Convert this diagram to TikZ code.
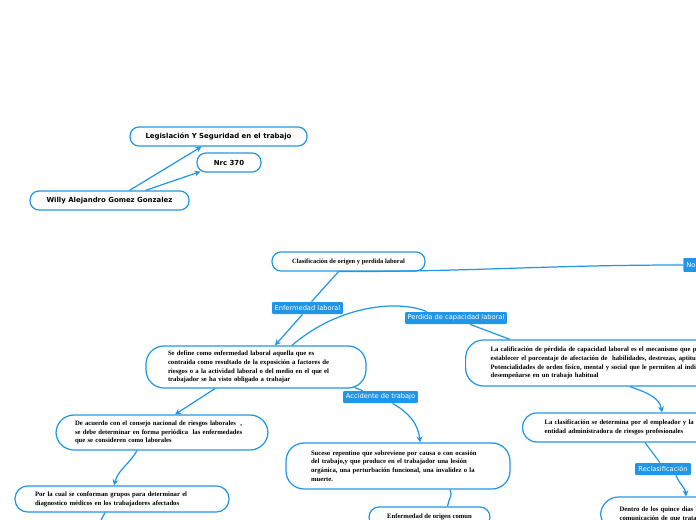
\documentclass[tikz,border=0pt]{standalone}
\usepackage{fontspec}
\setmainfont{Liberation Serif}
\setsansfont{DejaVu Sans}
\usetikzlibrary{arrows.meta,positioning,calc}
\definecolor{mapblue}{RGB}{33,150,230}

\begin{document}
\begin{tikzpicture}[
  x=0.02cm, y=-0.02cm,
  topic/.style={draw=mapblue, line width=0.7pt, rounded corners=0.18cm, minimum height=0.38cm, inner sep=0pt, font=\sffamily\bfseries\fontsize{3.95}{4.4}\selectfont},
  note/.style={draw=mapblue, line width=0.7pt, rounded corners=0.36cm, inner ysep=0pt, align=left, font=\bfseries\fontsize{3.8}{5}\selectfont},
  tag/.style={fill=mapblue, text=white, rounded corners=0.6pt, minimum height=0.24cm, inner sep=0pt, font=\sffamily\fontsize{3.8}{4.2}\selectfont},
  link/.style={draw=mapblue, line width=0.7pt},
  arr/.style={link, -{Stealth[length=3.4pt, width=3.4pt]}}
]
  \useasboundingbox (0,0) rectangle (696,520);

  \node[topic, minimum width=3.54cm] (legis) at (218.5,136.5) {Legislación Y Seguridad en el trabajo};
  \node[topic, minimum width=1.28cm] (nrc) at (229,162.5) {Nrc 370};
  \node[topic, minimum width=3.18cm] (willy) at (109.5,200.5) {Willy Alejandro Gomez Gonzalez};
  \node[topic, minimum width=3.06cm, font=\bfseries\fontsize{3.7}{4}\selectfont] (clasif) at (348.5,261.5) {Clasificación de origen y perdida laboral};

  \node[tag, minimum width=1.42cm] (enf) at (307.5,308) {Enfermedad laboral};
  \node[tag, minimum width=2.04cm] (perd) at (456,318) {Perdida de capacidad laboral};
  \node[tag, minimum width=1.5cm] (accid) at (380.5,397) {Accidente de trabajo};
  \node[tag, minimum width=1.12cm] (recl) at (663,469) {Reclasificación};
  \node[tag, anchor=west, inner xsep=0.06cm, minimum height=0.28cm, text width=0.7cm] (no) at (683,265) {No};

  \node[note, text width=3.52cm, inner xsep=0.44cm, minimum height=0.84cm] (boxA) at (256,367) {Se define como enfermedad laboral aquella que es\\ contraida como resultado de la exposición a factores de\\ riesgos o a la actividad laboral o del medio en el que el\\ trabajador se ha visto obligado a trabajar};
  \node[note, anchor=west, text width=5.6cm, inner xsep=0.5cm, minimum height=0.92cm] (boxB) at (465,363) {La calificación de pérdida de capacidad laboral es el mecanismo que permite\\ establecer el porcentaje de afectación de\ \ habilidades, destrezas, aptitudes y/o\\ Potencialidades de orden físico, mental y social que le permiten al individuo\\ desempeñarse en un trabajo habitual};
  \node[note, text width=3.48cm, inner xsep=0.38cm, minimum height=0.7cm] (boxE) at (162,432.5) {De acuerdo con el consejo nacional de riesgos laborales\ \ ,\\ se debe determinar en forma periódica\ \ las enfermedades\\ que se consideren como laborales};
  \node[note, text width=3.48cm, inner xsep=0.5cm, minimum height=0.92cm] (boxC) at (398,466) {Suceso repentino que sobreviene por causa o con ocasión\\ del trabajo,y que produce en el trabajador una lesión\\ orgánica, una perturbación funcional, una invalidez o la\\ muerte.};
  \node[note, anchor=west, text width=4cm, inner xsep=0.44cm, minimum height=0.58cm, rounded corners=0.28cm] (boxG) at (522,427.5) {La clasificación se determina por el empleador y la\\ entidad administradora de riesgos profesionales};
  \node[note, text width=3.48cm, inner xsep=0.4cm, minimum height=0.52cm, rounded corners=0.25cm] (boxF) at (122,499) {Por la cual se conforman grupos para determinar el\\ diagnostico médicos en los trabajadores afectados};
  \node[note, minimum width=2.42cm, minimum height=0.4cm, rounded corners=0.2cm, align=center] (boxD) at (429.5,517) {Enfermedad de origen comun};
  \node[note, anchor=west, text width=4cm, inner xsep=0.38cm, minimum height=0.68cm] (boxH) at (600,514) {Dentro de los quince dias hábiles\\ comunicación de que trata};

  \draw[arr] ($(willy.north)+(20,0)$) -- ($(legis.south)+(-17,0)$);
  \draw[arr] ($(willy.north)+(36,0)$) -- ($(nrc.south west)+(4,-1)$);
  \draw[link] ($(clasif.south)+(-10,0)$) to[out=0, in=180] (no.west);
  \draw[link] ($(clasif.south)+(-10,0)$) -- ($(enf.north)+(4,0)$);
  \draw[arr] ($(enf.south)+(-5,0)$) -- ($(boxA.north)+(19,0)$);
  \draw[link] ($(boxA.north)+(36,0)$) .. controls (340,304) and (400,300) .. ($(perd.north west)+(22,0)$);
  \draw[link] ($(perd.south)+(14,0)$) -- ($(boxB.north west)+(45,0)$);
  \draw[link] ($(boxA.south east)+(-12,-1)$) -- ($(accid.north west)+(20,0)$);
  \draw[arr] ($(accid.south)+(12,0)$) to[out=-30, in=95] ($(boxC.north)+(22,0)$);
  \draw[link] ($(boxC.south)+(52,0)$) to[out=-60, in=85] ($(boxD.north)+(18,0)$);
  \draw[arr] ($(boxA.south)+(-41,0)$) -- ($(boxE.north)+(13,0)$);
  \draw[arr] ($(boxE.south)+(-25,0)$) to[out=-120, in=75] ($(boxF.north)+(-8,0)$);
  \coordinate (down) at (100,522);
  \draw[link] ($(boxF.south)+(-17,0)$) -- (down);
  \draw[arr] ($(boxB.south west)+(165,0)$) to[out=-20, in=100] ($(boxG.north west)+(140,0)$);
  \draw[link] ($(boxG.south west)+(123,0)$) -- ($(recl.north)+(-3,0)$);
  \draw[arr] ($(recl.south)+(13,0)$) to[out=-70, in=95] ($(boxH.north west)+(86,0)$);
\end{tikzpicture}
\end{document}
